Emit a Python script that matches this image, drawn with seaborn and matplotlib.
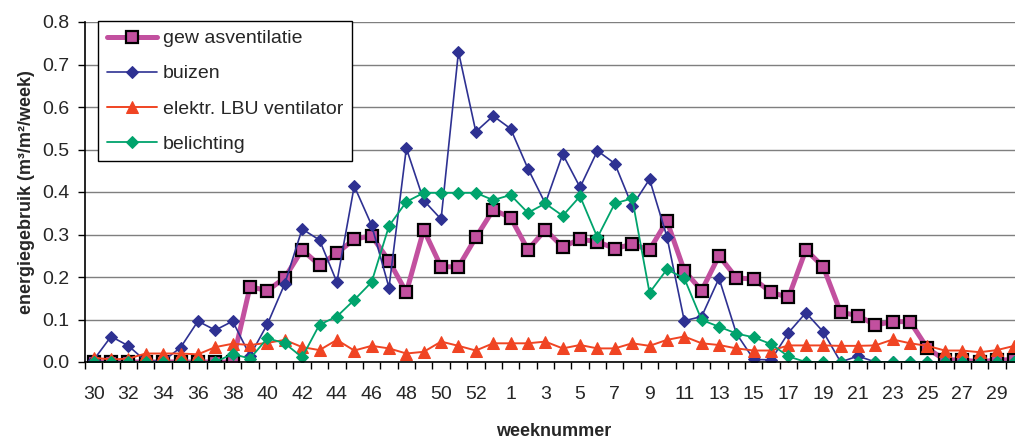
import numpy as np
import pandas as pd
import matplotlib
matplotlib.use('Agg')
import matplotlib.pyplot as plt
import seaborn as sns


weeks = list(range(30, 54)) + list(range(1, 30)) + [30]

gewasventilatie = [0.0, 0.0, 0.0, 0.0, 0.0, 0.0, 0.0, 0.0, 0.0, 0.177,
                   0.168, 0.198, 0.264, 0.228, 0.256, 0.289, 0.297, 0.238, 0.164, 0.311,
                   0.224, 0.224, 0.293, 0.358, 0.340, 0.264, 0.311, 0.271, 0.289, 0.283,
                   0.267, 0.277, 0.264, 0.332, 0.215, 0.168, 0.250, 0.198, 0.195, 0.164,
                   0.152, 0.264, 0.224, 0.117, 0.109, 0.087, 0.095, 0.095, 0.032, 0.005,
                   0.005, 0.0, 0.005, 0.005]
buizen = [0.005, 0.060, 0.038, 0.002, 0.002, 0.034, 0.096, 0.075, 0.096, 0.015,
          0.089, 0.184, 0.313, 0.287, 0.188, 0.414, 0.322, 0.175, 0.503, 0.380,
          0.336, 0.730, 0.542, 0.579, 0.549, 0.455, 0.373, 0.489, 0.411, 0.497,
          0.467, 0.367, 0.430, 0.295, 0.097, 0.107, 0.197, 0.067, 0.006, 0.005,
          0.069, 0.116, 0.071, 0.0, 0.014, 0.0, 0.0, 0.0, 0.0, 0.0,
          0.0, 0.0, 0.0, 0.0]
lbu_ventilator = [0.010, 0.006, 0.008, 0.020, 0.020, 0.020, 0.018, 0.035, 0.043, 0.040,
                  0.045, 0.052, 0.035, 0.028, 0.052, 0.027, 0.038, 0.032, 0.020, 0.024,
                  0.048, 0.038, 0.027, 0.044, 0.044, 0.044, 0.048, 0.032, 0.040, 0.032,
                  0.032, 0.044, 0.038, 0.052, 0.060, 0.044, 0.040, 0.032, 0.027, 0.027,
                  0.039, 0.039, 0.039, 0.038, 0.038, 0.039, 0.053, 0.044, 0.038, 0.027,
                  0.027, 0.023, 0.028, 0.038]
belichting = [0.0, 0.0, 0.0, 0.0, 0.0, 0.0, 0.0, 0.0, 0.019, 0.008,
              0.056, 0.044, 0.011, 0.088, 0.107, 0.146, 0.188, 0.320, 0.377, 0.398,
              0.398, 0.398, 0.398, 0.381, 0.393, 0.351, 0.373, 0.344, 0.390, 0.293,
              0.373, 0.385, 0.163, 0.218, 0.197, 0.099, 0.083, 0.067, 0.058, 0.042,
              0.013, 0.0, 0.0, 0.0, 0.0, 0.0, 0.0, 0.0, 0.0, 0.0,
              0.0, 0.0, 0.0, 0.0]

labels = ['gew asventilatie', 'buizen', 'elektr. LBU ventilator', 'belichting']

sns.set_style('white')
plt.rcParams['font.family'] = ['Liberation Sans', 'DejaVu Sans']

pos = np.arange(len(weeks))
fig = plt.figure(figsize=(10.15, 4.38), dpi=100)
ax = fig.add_axes([85 / 1015, 76 / 438, 938 / 1015, 340 / 438])

sns.lineplot(x=pos, y=gewasventilatie, ax=ax, color='#C2509F', linewidth=3.6,
             marker='s', markersize=8, markerfacecolor='#C2509F',
             markeredgecolor='black', markeredgewidth=1.6, label=labels[0])
sns.lineplot(x=pos, y=buizen, ax=ax, color='#2E3192', linewidth=1.2,
             marker='D', markersize=6.5, markeredgecolor='#2E3192', label=labels[1])
sns.lineplot(x=pos, y=lbu_ventilator, ax=ax, color='#F04423', linewidth=1.4,
             marker='^', markersize=9, markeredgecolor='#F04423', label=labels[2])
sns.lineplot(x=pos, y=belichting, ax=ax, color='#00A36C', linewidth=1.3,
             marker='D', markersize=6.5, markeredgecolor='#00A36C', label=labels[3])

ax.set_xlim(-0.5, len(weeks) - 0.5)
ax.set_ylim(0, 0.8)
ax.set_yticks(np.arange(0, 0.81, 0.1))
ax.set_yticklabels([f'{v:.1f}' for v in np.arange(0, 0.81, 0.1)])
ax.yaxis.grid(True, color='#7f7f7f', linewidth=1.0)
ax.set_axisbelow(True)

lab_pos = [i for i in pos if i % 2 == 0]
ax.set_xticks(lab_pos)
ax.set_xticklabels([str(weeks[i]) for i in lab_pos])
ax.set_xticks(np.arange(-0.5, len(weeks), 1.0), minor=True)
ax.tick_params(axis='x', which='major', length=0, pad=17.5, labelsize=14)
ax.tick_params(axis='x', which='minor', length=5, width=1, direction='out', color='black', bottom=True)
ax.tick_params(axis='y', which='major', length=5, width=1, direction='out', color='black',
               left=True, pad=6.5, labelsize=14)

for side in ['top', 'right']:
    ax.spines[side].set_visible(False)
for side in ['left', 'bottom']:
    ax.spines[side].set_color('black')
    ax.spines[side].set_linewidth(1.2)

ax.set_xlabel('weeknummer', fontsize=13, fontweight='bold')
ax.xaxis.label.set_va('baseline')
ax.xaxis.set_label_coords(0.5, (362 - 436) / 340)
ax.set_ylabel('energiegebruik (m³/m²/week)', fontsize=13, fontweight='bold', labelpad=5)

leg = ax.legend(loc='upper left', bbox_to_anchor=(0.0139, 1.003), borderaxespad=0,
                fontsize=14, handlelength=2.6, handletextpad=0.3, labelspacing=0.9,
                borderpad=0.45, frameon=True, fancybox=False, framealpha=1)
leg.get_frame().set_edgecolor('black')
leg.get_frame().set_linewidth(1.0)

fig.savefig('out.png', dpi=100)
